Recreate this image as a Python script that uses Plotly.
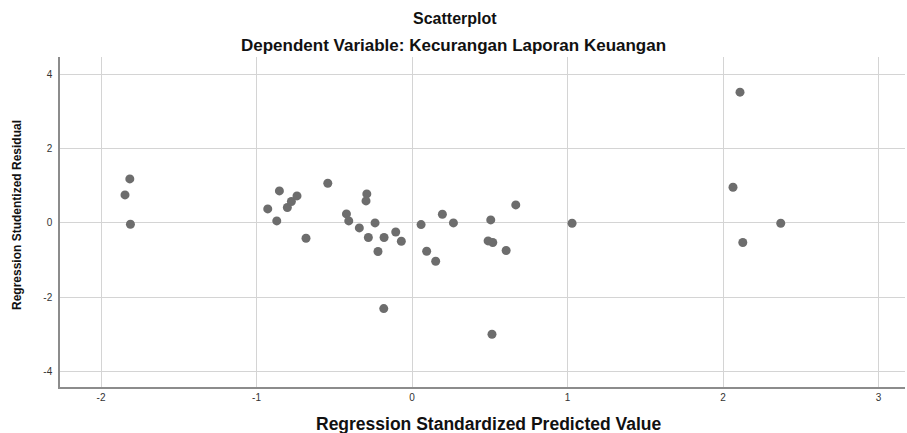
import plotly.graph_objects as go

# Regression standardized predicted values (x) and studentized residuals (y)
pred = [-1.815, -1.846, -1.811, -0.928, -0.853, -0.870, -0.802, -0.776, -0.740,
        -0.682, -0.542, -0.422, -0.407, -0.339, -0.291, -0.296, -0.281, -0.238,
        -0.219, -0.180, -0.105, -0.069, 0.058, 0.195, 0.266, 0.094, 0.152,
        -0.182, 0.506, 0.667, 0.489, 0.519, 0.605, 1.029, 0.514,
        2.109, 2.064, 2.371, 2.127]
resid = [1.186, 0.755, -0.035, 0.377, 0.862, 0.054, 0.415, 0.577, 0.728,
         -0.412, 1.070, 0.243, 0.054, -0.135, 0.782, 0.593, -0.394, 0.000,
         -0.771, -0.394, -0.243, -0.493, -0.044, 0.234, 0.000, -0.763, -1.032,
         -2.308, 0.081, 0.485, -0.485, -0.528, -0.744, -0.008, -3.000,
         3.523, 0.962, -0.008, -0.528]

x_ticks = [-2, -1, 0, 1, 2, 3]
y_ticks = [-4, -2, 0, 2, 4]

title_main = "Scatterplot"
title_sub = "Dependent Variable: Kecurangan Laporan Keuangan"
x_title = "Regression Standardized Predicted Value"
y_title = "Regression Studentized Residual"

FONT = "Liberation Sans, Arial, sans-serif"
PW, PH = 845, 330

fig = go.Figure()
fig.add_trace(go.Scatter(
    x=pred, y=resid, mode="markers",
    marker=dict(size=9, color="#6d6d6d", line=dict(width=0)),
    showlegend=False, hoverinfo="x+y",
))

fig.update_layout(
    width=907, height=433,
    margin=dict(l=60, r=2, t=57, b=46),
    paper_bgcolor="white", plot_bgcolor="white",
    font=dict(family=FONT, color="#222222", size=10),
    annotations=[
        dict(text="<b>" + title_main + "</b>", xref="paper", yref="paper",
             x=(455 - 60) / PW, y=1 + (57 - 18) / PH, xanchor="center", yanchor="middle",
             showarrow=False, font=dict(size=16, family=FONT, color="#111111")),
        dict(text="<b>" + title_sub + "</b>", xref="paper", yref="paper",
             x=(453 - 60) / PW, y=1 + (57 - 45) / PH, xanchor="center", yanchor="middle",
             showarrow=False, font=dict(size=17, family=FONT, color="#111111")),
        dict(text="<b>" + x_title + "</b>", xref="paper", yref="paper",
             x=(489 - 60) / PW, y=-(424 - 387) / PH, xanchor="center", yanchor="middle",
             showarrow=False, font=dict(size=17.5, family=FONT, color="#111111")),
        dict(text="<b>" + y_title + "</b>", xref="paper", yref="paper",
             x=-(60 - 17) / PW, y=(387 - 215) / PH, xanchor="center", yanchor="middle",
             textangle=-90, showarrow=False, font=dict(size=12, family=FONT, color="#111111")),
    ],
    xaxis=dict(
        range=[-2.264, 3.17], tickvals=x_ticks, ticktext=[str(v) for v in x_ticks],
        showgrid=True, gridcolor="#d4d4d4", gridwidth=1,
        zeroline=False, showline=True, linecolor="#8c8c8c", linewidth=1.5,
        ticks="", tickfont=dict(size=10, color="#333333"), fixedrange=True,
    ),
    yaxis=dict(
        range=[-4.42, 4.47], tickvals=y_ticks, ticktext=[str(v) for v in y_ticks],
        showgrid=True, gridcolor="#d4d4d4", gridwidth=1,
        zeroline=False, showline=True, linecolor="#8c8c8c", linewidth=1.5,
        ticks="", tickfont=dict(size=10, color="#333333"), fixedrange=True,
        ticklabelstandoff=4,
    ),
)

fig.write_html("out.html", config={"displayModeBar": False},
               post_script="document.body.style.margin='0';document.body.style.overflow='hidden';")
